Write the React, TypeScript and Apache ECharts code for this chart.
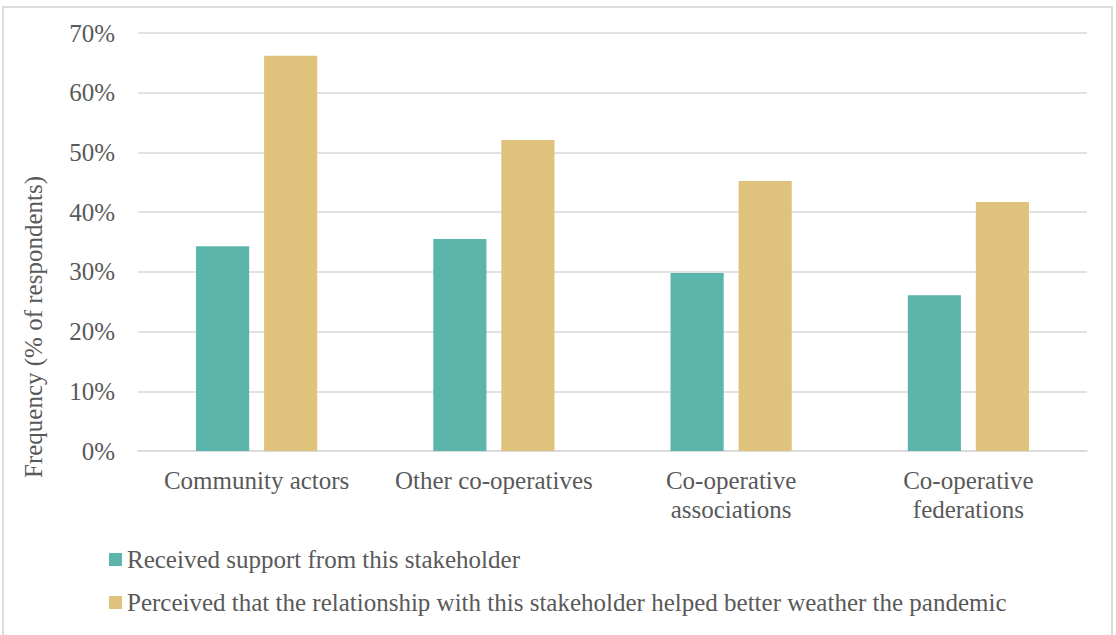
import React, { useEffect, useRef } from "react";
import * as echarts from "echarts";

const categories = [
  "Community actors",
  "Other co-operatives",
  "Co-operative\nassociations",
  "Co-operative\nfederations",
];
const receivedSupport = [34.3, 35.5, 29.8, 26.1];
const perceivedHelped = [66.2, 52.1, 45.2, 41.7];
const seriesNames = [
  "Received support from this stakeholder",
  "Perceived that the relationship with this stakeholder helped better weather the pandemic",
];
const yTicks = [0, 10, 20, 30, 40, 50, 60, 70];

const FONT = "'Liberation Serif', serif";
const TXT = "#595959";
const FS = 25;

export default function App() {
  const ref = useRef<HTMLDivElement>(null);
  useEffect(() => {
    if (!ref.current) return;
    const chart = echarts.init(ref.current, undefined, { renderer: "svg" });
    chart.setOption({
      animation: false,
      backgroundColor: "#ffffff",
      textStyle: { fontFamily: FONT, color: TXT },
      grid: { left: 138, right: 29, top: 33, bottom: 184 },
      graphic: [
        {
          type: "rect",
          shape: { x: 3, y: 7, width: 1109, height: 640 },
          style: { fill: "none", stroke: "#dcdcdc", lineWidth: 2 },
          silent: true,
        },
        {
          type: "text",
          x: 33,
          y: 327,
          rotation: Math.PI / 2,
          style: {
            text: "Frequency (% of respondents)",
            fontFamily: FONT,
            fontSize: FS,
            fill: TXT,
            align: "center",
            verticalAlign: "middle",
          },
        },
      ],
      legend: {
        orient: "vertical",
        left: 104,
        top: 542,
        itemWidth: 13,
        itemHeight: 13,
        itemGap: 18,
        icon: "rect",
        textStyle: { fontFamily: FONT, fontSize: FS, color: TXT, lineHeight: 25 },
        data: seriesNames,
      },
      xAxis: {
        type: "category",
        data: categories,
        axisLine: { show: true, lineStyle: { color: "#d9d9d9", width: 1.5 } },
        axisTick: { show: false },
        axisLabel: {
          fontFamily: FONT,
          fontSize: FS,
          color: TXT,
          lineHeight: 29,
          margin: 15,
          interval: 0,
        },
      },
      yAxis: {
        type: "value",
        min: yTicks[0],
        max: yTicks[yTicks.length - 1],
        interval: 10,
        axisLine: { show: false },
        axisTick: { show: false },
        splitLine: { lineStyle: { color: "#d9d9d9", width: 1.5 } },
        axisLabel: {
          fontFamily: FONT,
          fontSize: FS,
          color: TXT,
          margin: 23,
          formatter: (v: number) => `${v}%`,
        },
      },
      series: [
        {
          name: seriesNames[0],
          type: "bar",
          data: receivedSupport,
          barWidth: "22.4%",
          barGap: "28%",
          itemStyle: { color: "#5BB5AB" },
        },
        {
          name: seriesNames[1],
          type: "bar",
          data: perceivedHelped,
          barWidth: "22.4%",
          barGap: "28%",
          itemStyle: { color: "#DFC37C" },
        },
      ],
    });
    return () => chart.dispose();
  }, []);
  return (
    <div
      ref={ref}
      style={{ position: "fixed", left: 0, top: 0, width: 1116, height: 635 }}
    />
  );
}
